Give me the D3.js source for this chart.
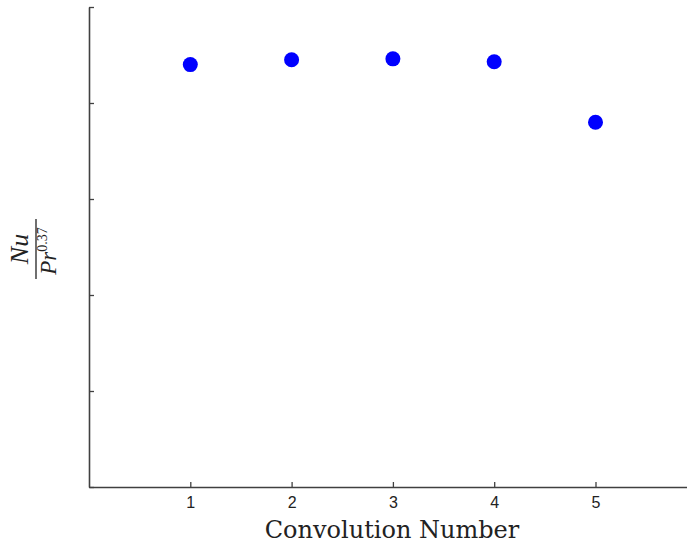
<!DOCTYPE html>
<html>
<head>
<meta charset="utf-8">
<script src="https://cdn.jsdelivr.net/npm/d3@7"></script>
<style>
  body { margin: 0; background: #fff; }
  svg { display: block; }
</style>
</head>
<body>
<script>
// data (y has no labels, units are arbitrary)
const convolution = [1, 2, 3, 4, 5];
const nuOverPr = [4.40, 4.45, 4.46, 4.43, 3.80];
const xTicks = [1, 2, 3, 4, 5];
const yTicks = [0, 1, 2, 3, 4, 5];

const width = 687, height = 544;
const margin = { top: 7, left: 89, bottom: 57 };
const axisColor = '#404040';

const svg = d3.select('body').append('svg')
	.attr('width', width)
	.attr('height', height);

let x = d3.scaleLinear().domain([0, 6]).range([margin.left, margin.left + 6 * 101.3]);
let y = d3.scaleLinear().domain([0, 5]).range([height - margin.bottom, margin.top]);

// x axis, ticks pointing inward
let xAxis = svg.append('g')
	.attr('transform', 'translate(0,' + y(0) + ')')
	.call(d3.axisBottom(x).tickValues(xTicks).tickFormat(d3.format('d'))
		.tickSizeInner(-5).tickSizeOuter(0).tickPadding(10));

// y axis, no labels
let yAxis = svg.append('g')
	.attr('transform', 'translate(' + x(0) + ',0)')
	.call(d3.axisLeft(y).tickValues(yTicks).tickSizeInner(-5).tickSizeOuter(0).tickFormat(''));

[xAxis, yAxis].forEach(a => {
	a.select('.domain').attr('stroke', axisColor).attr('stroke-width', 1.6);
	a.selectAll('.tick line').attr('stroke', axisColor).attr('stroke-width', 1.3);
});
xAxis.selectAll('.tick text')
	.attr('fill', '#222')
	.style('font-family', '"Liberation Sans", Arial, sans-serif')
	.style('font-size', '16px');

// points
svg.append('g').selectAll('circle')
	.data(convolution)
	.join('circle')
	.attr('cx', d => x(d))
	.attr('cy', (d, i) => y(nuOverPr[i]))
	.attr('r', 7.5)
	.attr('fill', '#0000ff');

// x label
svg.append('text')
	.attr('x', 392)
	.attr('y', 538)
	.attr('text-anchor', 'middle')
	.style('font-family', '"DejaVu Serif", "Liberation Serif", serif')
	.style('font-size', '24px')
	.attr('fill', '#222')
	.text('Convolution Number');

// y label: Nu / Pr^0.37, rotated
let yl = svg.append('g')
	.attr('transform', 'translate(36,249) rotate(-90)')
	.style('font-family', '"Liberation Serif", "DejaVu Serif", serif')
	.style('font-style', 'italic')
	.attr('fill', '#222');

yl.append('text')
	.attr('x', 0).attr('y', -8)
	.attr('text-anchor', 'middle')
	.style('font-size', '26px')
	.text('Nu');

yl.append('line')
	.attr('x1', -30).attr('x2', 30)
	.attr('y1', 0).attr('y2', 0)
	.attr('stroke', '#222')
	.attr('stroke-width', 1.3);

let den = yl.append('text')
	.attr('x', -2).attr('y', 20)
	.attr('text-anchor', 'middle')
	.style('font-size', '23px');
den.append('tspan').text('Pr');
den.append('tspan')
	.attr('dy', -9)
	.style('font-size', '14px')
	.style('font-style', 'normal')
	.text('0.37');
</script>
</body>
</html>
